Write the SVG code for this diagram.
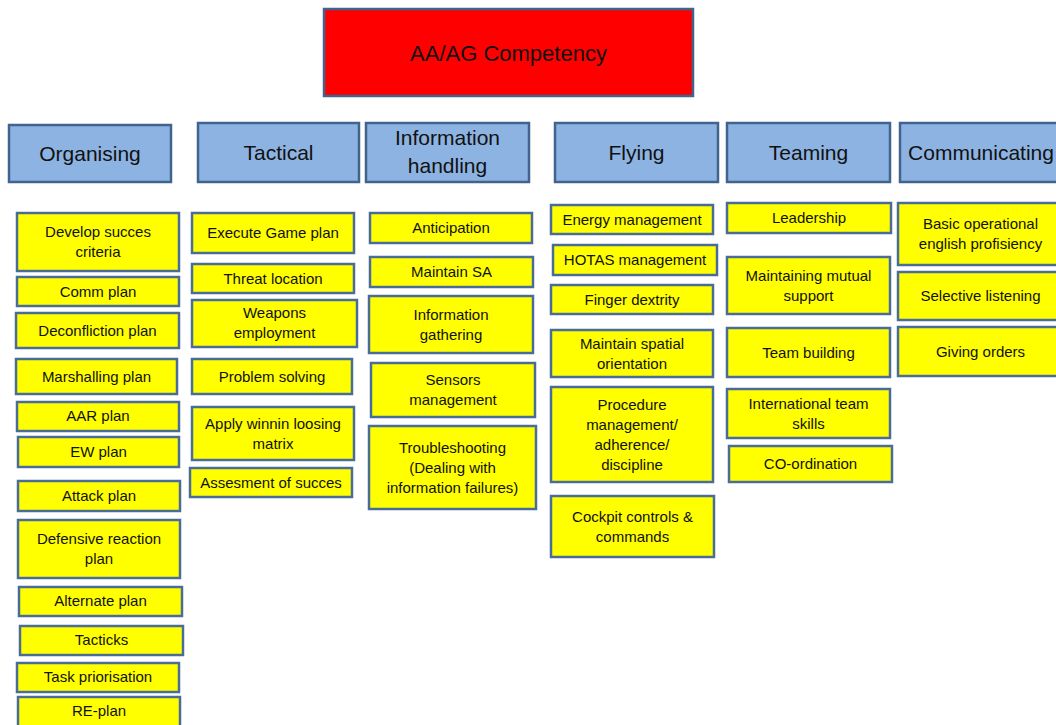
<svg xmlns="http://www.w3.org/2000/svg" width="1056" height="725" viewBox="0 0 1056 725">
  <style>
    text { font-family: "Liberation Sans", Arial, sans-serif; fill: #111; text-anchor: middle; }
    .title-box { fill: #FF0000; stroke: #41648F; stroke-width: 2.5; }
    .head-box { fill: #8DB3E2; stroke: #41648F; stroke-width: 2.5; }
    .item-box { fill: #FFFF00; stroke: #4A6D98; stroke-width: 2.5; }
    .title { font-size: 22px; }
    .head { font-size: 21px; }
    .item { font-size: 15px; }
  </style>
  <rect width="1056" height="725" fill="#FFFFFF"/>

  <!-- Root -->
  <g id="root">
    <rect class="title-box" x="324" y="9" width="369" height="87"/>
    <text class="title" x="508.5" y="61">AA/AG Competency</text>
  </g>

  <!-- Category headers -->
  <g id="head-organising">
    <rect class="head-box" x="9" y="125" width="162" height="57"/>
    <text class="head" x="90" y="161">Organising</text>
  </g>
  <g id="head-tactical">
    <rect class="head-box" x="198" y="123" width="161" height="59"/>
    <text class="head" x="278.5" y="160">Tactical</text>
  </g>
  <g id="head-information">
    <rect class="head-box" x="366" y="123" width="163" height="59"/>
    <text class="head" x="447.5" y="145">Information</text>
    <text class="head" x="447.5" y="173">handling</text>
  </g>
  <g id="head-flying">
    <rect class="head-box" x="555" y="123" width="163" height="59"/>
    <text class="head" x="636.5" y="160">Flying</text>
  </g>
  <g id="head-teaming">
    <rect class="head-box" x="727" y="123" width="163" height="59"/>
    <text class="head" x="808.5" y="160">Teaming</text>
  </g>
  <g id="head-communicating">
    <rect class="head-box" x="900" y="123" width="162" height="59"/>
    <text class="head" x="981" y="160">Communicating</text>
  </g>

  <!-- Organising items -->
  <g id="org-success">
    <rect class="item-box" x="17" y="213" width="162" height="58"/>
    <text class="item" x="98" y="237">Develop succes</text>
    <text class="item" x="98" y="257">criteria</text>
  </g>
  <g id="org-comm">
    <rect class="item-box" x="17" y="277" width="162" height="29"/>
    <text class="item" x="98" y="297">Comm plan</text>
  </g>
  <g id="org-deconfliction">
    <rect class="item-box" x="16" y="313" width="163" height="35"/>
    <text class="item" x="97.5" y="336">Deconfliction plan</text>
  </g>
  <g id="org-marshalling">
    <rect class="item-box" x="16" y="359" width="161" height="35"/>
    <text class="item" x="96.5" y="382">Marshalling plan</text>
  </g>
  <g id="org-aar">
    <rect class="item-box" x="17" y="402" width="162" height="29"/>
    <text class="item" x="98" y="421">AAR plan</text>
  </g>
  <g id="org-ew">
    <rect class="item-box" x="18" y="437" width="161" height="30"/>
    <text class="item" x="98.5" y="457">EW plan</text>
  </g>
  <g id="org-attack">
    <rect class="item-box" x="18" y="481" width="162" height="30"/>
    <text class="item" x="99" y="501">Attack plan</text>
  </g>
  <g id="org-defensive">
    <rect class="item-box" x="18" y="520" width="162" height="58"/>
    <text class="item" x="99" y="544">Defensive reaction</text>
    <text class="item" x="99" y="564">plan</text>
  </g>
  <g id="org-alternate">
    <rect class="item-box" x="19" y="587" width="163" height="29"/>
    <text class="item" x="100.5" y="606">Alternate plan</text>
  </g>
  <g id="org-tactics">
    <rect class="item-box" x="20" y="626" width="163" height="29"/>
    <text class="item" x="101.5" y="645">Tacticks</text>
  </g>
  <g id="org-priorisation">
    <rect class="item-box" x="17" y="663" width="162" height="29"/>
    <text class="item" x="98" y="682">Task priorisation</text>
  </g>
  <g id="org-replan">
    <rect class="item-box" x="18" y="697" width="162" height="32"/>
    <text class="item" x="99" y="716">RE-plan</text>
  </g>

  <!-- Tactical items -->
  <g id="tac-gameplan">
    <rect class="item-box" x="192" y="213" width="162" height="40"/>
    <text class="item" x="273" y="238">Execute Game plan</text>
  </g>
  <g id="tac-threat">
    <rect class="item-box" x="192" y="264" width="162" height="29"/>
    <text class="item" x="273" y="284">Threat location</text>
  </g>
  <g id="tac-weapons">
    <rect class="item-box" x="192" y="300" width="165" height="47"/>
    <text class="item" x="274.5" y="318">Weapons</text>
    <text class="item" x="274.5" y="338">employment</text>
  </g>
  <g id="tac-problem">
    <rect class="item-box" x="192" y="359" width="160" height="35"/>
    <text class="item" x="272" y="382">Problem solving</text>
  </g>
  <g id="tac-matrix">
    <rect class="item-box" x="192" y="407" width="162" height="53"/>
    <text class="item" x="273" y="429">Apply winnin loosing</text>
    <text class="item" x="273" y="449">matrix</text>
  </g>
  <g id="tac-assessment">
    <rect class="item-box" x="190" y="468" width="162" height="29"/>
    <text class="item" x="271" y="488">Assesment of succes</text>
  </g>

  <!-- Information handling items -->
  <g id="inf-anticipation">
    <rect class="item-box" x="370" y="213" width="162" height="30"/>
    <text class="item" x="451" y="233">Anticipation</text>
  </g>
  <g id="inf-sa">
    <rect class="item-box" x="370" y="257" width="163" height="30"/>
    <text class="item" x="451.5" y="277">Maintain SA</text>
  </g>
  <g id="inf-gathering">
    <rect class="item-box" x="369" y="296" width="164" height="57"/>
    <text class="item" x="451" y="320">Information</text>
    <text class="item" x="451" y="340">gathering</text>
  </g>
  <g id="inf-sensors">
    <rect class="item-box" x="371" y="363" width="164" height="54"/>
    <text class="item" x="453" y="385">Sensors</text>
    <text class="item" x="453" y="405">management</text>
  </g>
  <g id="inf-troubleshooting">
    <rect class="item-box" x="369" y="426" width="167" height="83"/>
    <text class="item" x="452.5" y="453">Troubleshooting</text>
    <text class="item" x="452.5" y="473">(Dealing with</text>
    <text class="item" x="452.5" y="493">information failures)</text>
  </g>

  <!-- Flying items -->
  <g id="fly-energy">
    <rect class="item-box" x="551" y="205" width="162" height="29"/>
    <text class="item" x="632" y="225">Energy management</text>
  </g>
  <g id="fly-hotas">
    <rect class="item-box" x="553" y="245" width="164" height="30"/>
    <text class="item" x="635" y="265">HOTAS management</text>
  </g>
  <g id="fly-dexterity">
    <rect class="item-box" x="551" y="285" width="162" height="29"/>
    <text class="item" x="632" y="305">Finger dextrity</text>
  </g>
  <g id="fly-spatial">
    <rect class="item-box" x="551" y="330" width="162" height="47"/>
    <text class="item" x="632" y="349">Maintain spatial</text>
    <text class="item" x="632" y="369">orientation</text>
  </g>
  <g id="fly-procedure">
    <rect class="item-box" x="551" y="387" width="162" height="95"/>
    <text class="item" x="632" y="410">Procedure</text>
    <text class="item" x="632" y="430">management/</text>
    <text class="item" x="632" y="450">adherence/</text>
    <text class="item" x="632" y="470">discipline</text>
  </g>
  <g id="fly-cockpit">
    <rect class="item-box" x="551" y="496" width="163" height="61"/>
    <text class="item" x="632.5" y="522">Cockpit controls &amp;</text>
    <text class="item" x="632.5" y="542">commands</text>
  </g>

  <!-- Teaming items -->
  <g id="team-leadership">
    <rect class="item-box" x="727" y="203" width="164" height="30"/>
    <text class="item" x="809" y="223">Leadership</text>
  </g>
  <g id="team-mutual">
    <rect class="item-box" x="727" y="257" width="163" height="57"/>
    <text class="item" x="808.5" y="281">Maintaining mutual</text>
    <text class="item" x="808.5" y="301">support</text>
  </g>
  <g id="team-building">
    <rect class="item-box" x="727" y="328" width="163" height="49"/>
    <text class="item" x="808.5" y="358">Team building</text>
  </g>
  <g id="team-international">
    <rect class="item-box" x="727" y="389" width="163" height="49"/>
    <text class="item" x="808.5" y="409">International team</text>
    <text class="item" x="808.5" y="429">skills</text>
  </g>
  <g id="team-coordination">
    <rect class="item-box" x="729" y="446" width="163" height="36"/>
    <text class="item" x="810.5" y="469">CO-ordination</text>
  </g>

  <!-- Communicating items -->
  <g id="com-english">
    <rect class="item-box" x="898" y="203" width="165" height="62"/>
    <text class="item" x="980.5" y="229">Basic operational</text>
    <text class="item" x="980.5" y="249">english profisiency</text>
  </g>
  <g id="com-listening">
    <rect class="item-box" x="898" y="272" width="165" height="48"/>
    <text class="item" x="980.5" y="301">Selective listening</text>
  </g>
  <g id="com-orders">
    <rect class="item-box" x="898" y="327" width="165" height="49"/>
    <text class="item" x="980.5" y="357">Giving orders</text>
  </g>
</svg>
